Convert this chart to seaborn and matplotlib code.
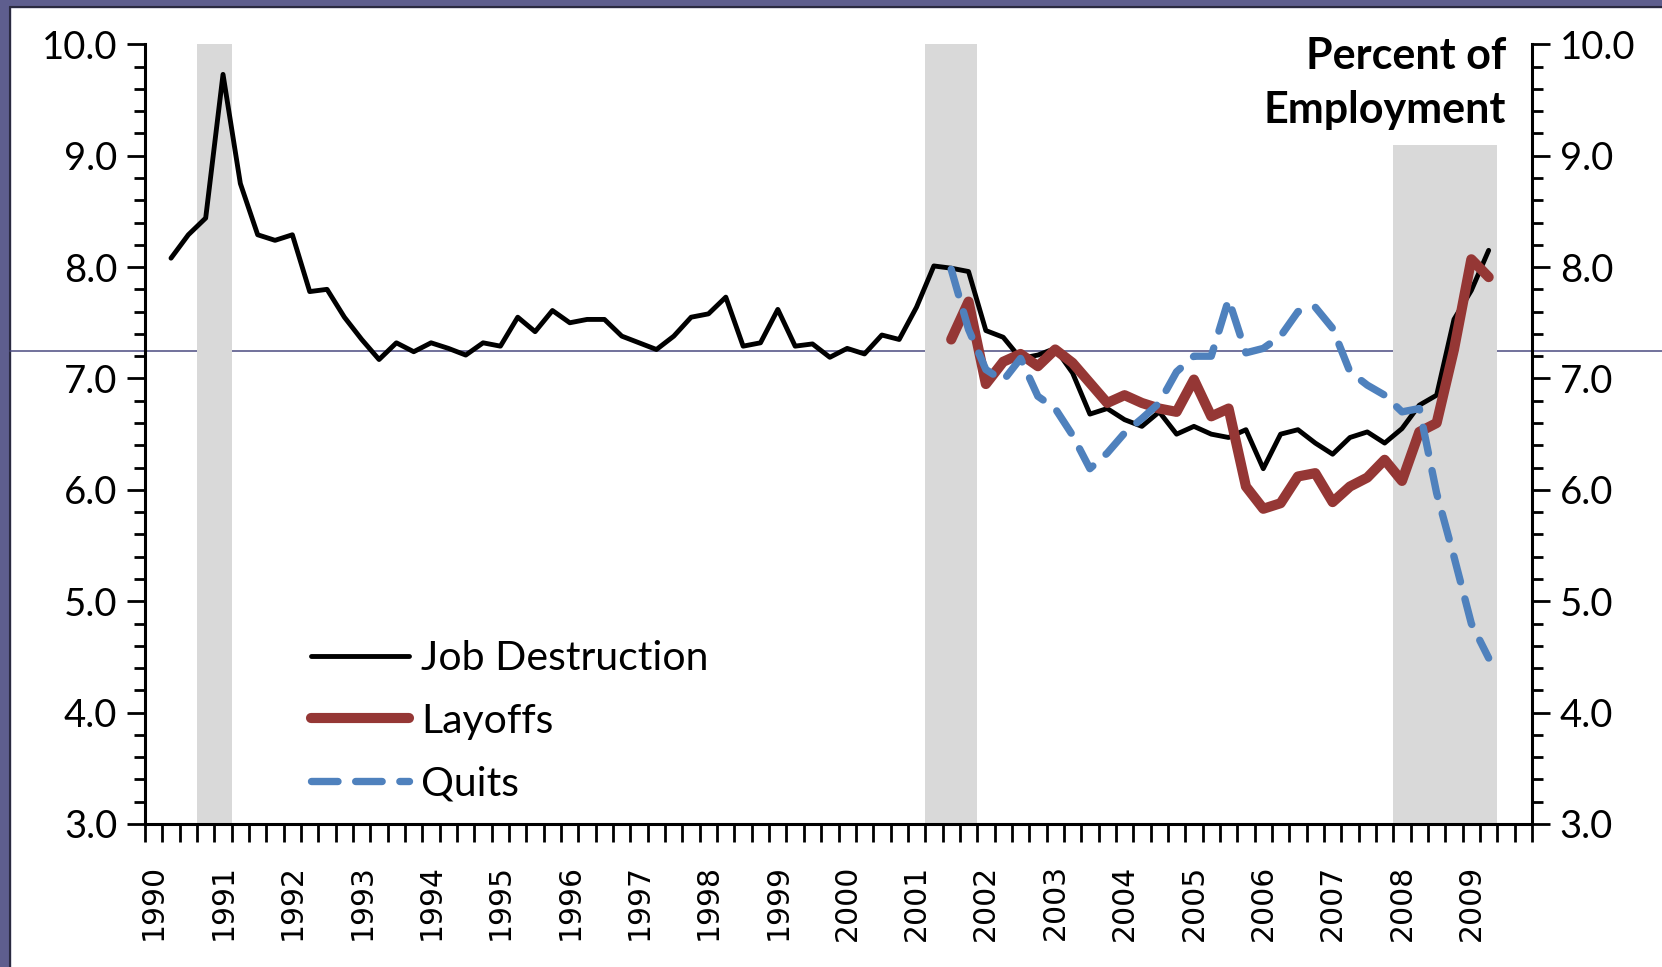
import numpy as np
import pandas as pd
import matplotlib
matplotlib.use('Agg')
import matplotlib.pyplot as plt
import seaborn as sns
from matplotlib.lines import Line2D
from matplotlib.patches import Rectangle
from matplotlib.ticker import MultipleLocator, FixedLocator

# 데이터 (분기별, 1990Q1 = 0) ====================================
years = list(range(1990, 2010))

job_destruction = [8.08, 8.29, 8.44, 9.73, 8.75, 8.29, 8.24, 8.29, 7.78, 7.80,
                   7.55, 7.35, 7.17, 7.32, 7.24, 7.32, 7.27, 7.21, 7.32, 7.29,
                   7.55, 7.42, 7.61, 7.50, 7.53, 7.53, 7.38, 7.32, 7.26, 7.38,
                   7.55, 7.58, 7.73, 7.29, 7.32, 7.62, 7.29, 7.31, 7.19, 7.27,
                   7.22, 7.39, 7.35, 7.64, 8.01, 7.99, 7.96, 7.43, 7.37, 7.18,
                   7.21, 7.27, 7.05, 6.68, 6.73, 6.63, 6.57, 6.70, 6.50, 6.57,
                   6.50, 6.47, 6.54, 6.19, 6.50, 6.54, 6.42, 6.32, 6.47, 6.52,
                   6.42, 6.55, 6.76, 6.85, 7.53, 7.79, 8.15]
jd_start = 1

layoffs = [7.35, 7.69, 6.95, 7.15, 7.22, 7.11, 7.26, 7.14, 6.96, 6.78,
           6.85, 6.78, 6.73, 6.70, 6.99, 6.66, 6.73, 6.03, 5.83, 5.88,
           6.12, 6.15, 5.89, 6.03, 6.11, 6.27, 6.08, 6.52, 6.60, 7.26,
           8.07, 7.91]
quits = [7.98, 7.44, 7.08, 6.98, 7.18, 6.84, 6.73, 6.49, 6.19, 6.33,
         6.51, 6.64, 6.78, 7.06, 7.20, 7.20, 7.71, 7.23, 7.27, 7.38,
         7.60, 7.64, 7.45, 7.06, 6.94, 6.85, 6.70, 6.73, 5.97, 5.40,
         4.80, 4.49]
jolts_start = 46

# 경기 침체 구간 (분기 index 시작, 끝), 상단 값
recessions = [(3, 5, 10.0), (45, 48, 10.0), (72, 78, 9.1)]

# 스타일 ========================================================
sns.set_style('white')
plt.rcParams['font.family'] = ['Lato', 'DejaVu Sans']
plt.rcParams['text.color'] = 'black'
plt.rcParams['xtick.color'] = 'black'
plt.rcParams['ytick.color'] = 'black'

W, H = 1662, 967
fig = plt.figure(figsize=(W / 100, H / 100), dpi=100)
ax = fig.add_axes([145 / W, 1 - 824 / H, (1532 - 145) / W, (824 - 44.3) / H])
ax.set_facecolor('none')

# 슬라이드 배경 요소 (보라색 테두리, 가로선)
purple = '#5E5E8E'
fig.patches.append(Rectangle((0, 1 - 7 / H), 1, 7 / H, transform=fig.transFigure,
                             color=purple, zorder=-5))
fig.patches.append(Rectangle((0, 0), 10 / W, 1, transform=fig.transFigure,
                             color=purple, zorder=-5))
fig.lines.append(Line2D([10 / W, 1], [1 - 7 / H, 1 - 7 / H], transform=fig.transFigure,
                        color='#2a2a40', lw=1.5, zorder=-4))
fig.lines.append(Line2D([10 / W, 10 / W], [0, 1 - 7 / H], transform=fig.transFigure,
                        color='#2a2a40', lw=1.5, zorder=-4))
fig.lines.append(Line2D([10 / W, 1], [1 - 351 / H, 1 - 351 / H], transform=fig.transFigure,
                        color='#4a4a80', lw=1.1, zorder=-3))

for x0, x1, top in recessions:
    ax.fill_between([x0, x1], 3.0, top, color='#D9D9D9', lw=0, zorder=1)

x_jd = np.arange(jd_start, jd_start + len(job_destruction)) + 0.5
x_jolts = np.arange(jolts_start, jolts_start + len(layoffs)) + 0.5

sns.lineplot(x=x_jd, y=job_destruction, ax=ax, color='black', lw=3.5,
             label='Job Destruction', zorder=3)
sns.lineplot(x=x_jolts, y=layoffs, ax=ax, color='#953735', lw=7.3,
             label='Layoffs', zorder=4)
sns.lineplot(x=x_jolts, y=quits, ax=ax, color='#4F81BD', lw=5.3,
             linestyle=(0, (3.6, 2.4)), dash_capstyle='round',
             label='Quits', zorder=5)

ax.set_xlim(0, 80)
ax.set_ylim(3, 10)

# 축 ===========================================================
ax.spines['top'].set_visible(False)
for side in ['left', 'right', 'bottom']:
    ax.spines[side].set_visible(True)
    ax.spines[side].set_linewidth(2.2)
    ax.spines[side].set_color('black')

ax.yaxis.set_major_locator(MultipleLocator(1))
ax.yaxis.set_minor_locator(MultipleLocator(0.2))
ax.yaxis.set_major_formatter(lambda v, p: f'{v:.1f}')
ax.tick_params(axis='y', which='major', direction='out', length=13, width=2,
               labelsize=27.5, left=True, right=True, labelleft=True, labelright=True,
               pad=7)
ax.tick_params(axis='y', which='minor', direction='out', length=8, width=2,
               left=True, right=True)

# 연도 라벨은 major, 분기 눈금은 minor
ax.xaxis.set_major_locator(FixedLocator([4 * i + 0.5 for i in range(len(years))]))
ax.xaxis.set_minor_locator(FixedLocator(np.arange(0, 81)))
ax.xaxis.set_major_formatter(lambda v, p: str(years[int(v) // 4]))
ax.tick_params(axis='x', which='major', length=0, pad=29, labelsize=21.5,
               labelrotation=90, labelfontfamily='DejaVu Sans')
ax.tick_params(axis='x', which='minor', direction='out', length=13, width=2,
               bottom=True)

ax.text(1506 / W, 1 - 36 / H, 'Percent of\nEmployment', transform=fig.transFigure,
        ha='right', va='top', fontsize=31, fontweight='bold', linespacing=1.42)

leg = ax.legend(loc='upper left', bbox_to_anchor=(311 / W, 1 - 640 / H),
                bbox_transform=fig.transFigure, frameon=False, fontsize=29.5,
                handlelength=2.4, handletextpad=0.28, labelspacing=0.63,
                borderaxespad=0, borderpad=0)

fig.savefig('out.png', dpi=100, facecolor='white')
